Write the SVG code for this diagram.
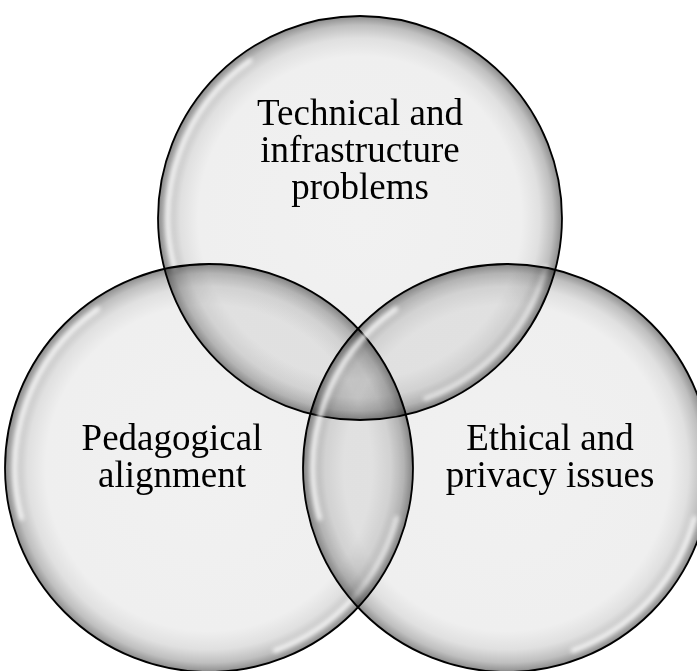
<svg xmlns="http://www.w3.org/2000/svg" width="697" height="671" viewBox="0 0 697 671">
<defs>
<radialGradient id="bevel" cx="50%" cy="50%" r="50%">
<stop offset="0" stop-color="#f1f1f1"/>
<stop offset="0.80" stop-color="#efefef"/>
<stop offset="0.89" stop-color="#e0e0e0"/>
<stop offset="0.955" stop-color="#bfbfbf"/>
<stop offset="0.99" stop-color="#989898"/>
<stop offset="1" stop-color="#7c7c7c"/>
</radialGradient>
<filter id="soft" x="-20%" y="-20%" width="140%" height="140%">
<feGaussianBlur stdDeviation="2"/>
</filter>
</defs>
<style>
.disc{fill:url(#bevel);mix-blend-mode:multiply;}
.rim{fill:none;stroke:#000;stroke-width:1.8;}
.hl{fill:none;stroke:#fff;stroke-width:5;stroke-linecap:round;opacity:0.8;filter:url(#soft);}
.lbl{font-family:"Liberation Serif","Times New Roman",serif;font-size:37px;fill:#000;text-anchor:middle;}
</style>
<rect width="697" height="671" fill="#fff"/>
<g id="node-technical">
<circle class="disc" cx="360" cy="218" r="202"/>
<path class="hl" d="M174.5,267.7 A192,192 0 0 1 249.9,60.7"/>
<path class="hl" d="M545.5,267.7 A192,192 0 0 1 425.7,398.4"/>
<circle class="rim" cx="360" cy="218" r="202"/>
</g>
<g id="node-pedagogical">
<circle class="disc" cx="209" cy="468" r="204"/>
<path class="hl" d="M21.6,518.2 A194,194 0 0 1 97.7,309.1"/>
<path class="hl" d="M396.4,518.2 A194,194 0 0 1 275.3,650.3"/>
<circle class="rim" cx="209" cy="468" r="204"/>
</g>
<g id="node-ethical">
<circle class="disc" cx="507" cy="468" r="204"/>
<path class="hl" d="M319.6,518.2 A194,194 0 0 1 395.7,309.1"/>
<path class="hl" d="M694.4,518.2 A194,194 0 0 1 573.3,650.3"/>
<circle class="rim" cx="507" cy="468" r="204"/>
</g>
<g id="labels">
<text class="lbl" x="360" y="125">Technical and</text>
<text class="lbl" x="360" y="162">infrastructure</text>
<text class="lbl" x="360" y="199">problems</text>
<text class="lbl" x="172" y="450">Pedagogical</text>
<text class="lbl" x="172" y="487">alignment</text>
<text class="lbl" x="550" y="450">Ethical and</text>
<text class="lbl" x="550" y="487">privacy issues</text>
</g>
<g id="connectors"/>
</svg>
